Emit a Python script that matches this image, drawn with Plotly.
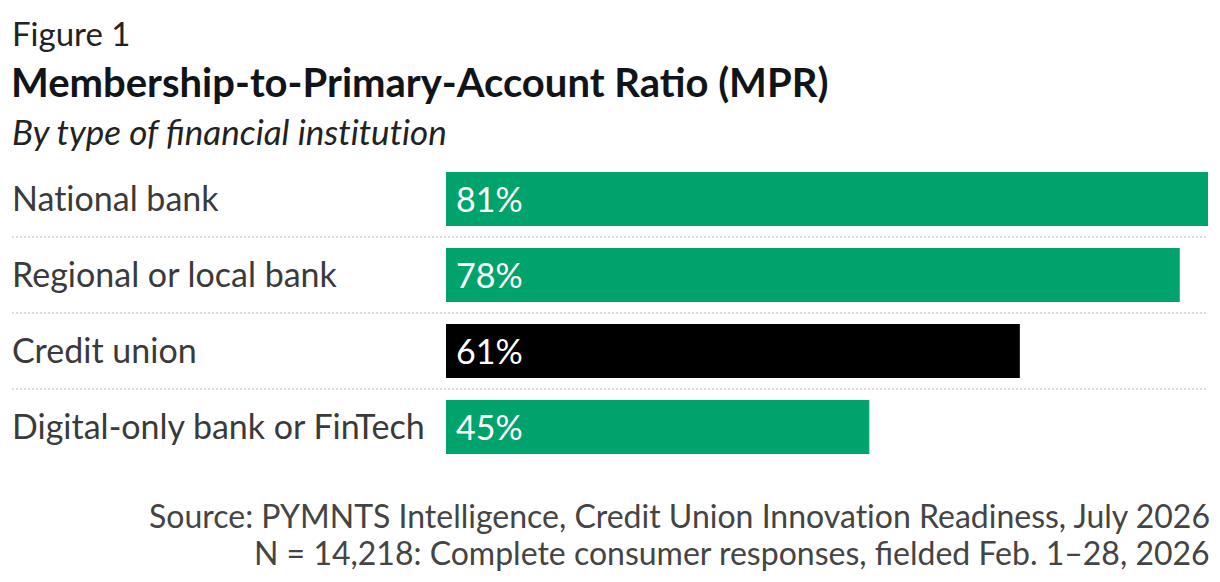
import plotly.graph_objects as go

# 데이터
categories = ['National bank', 'Regional or local bank', 'Credit union', 'Digital-only bank or FinTech']
values = [81, 78, 61, 45]
bar_colors = ['#00a36c', '#00a36c', '#000000', '#00a36c']

FONT = 'Lato'
W, H = 1220, 582
OFF = 8  # 페이지 body 여백 보정
ML, MR, MT, MB = 446 - OFF, 12 + OFF, 161 - OFF, 117 + OFF
plot_w = W - ML - MR


def no_ti(s):
    # Lato 'ti' 합자 방지 (원본은 합자 없음)
    return s.replace('ti', 't\u200ci')


fig = go.Figure()
fig.add_trace(go.Bar(
    y=categories,
    x=values,
    orientation='h',
    marker=dict(color=bar_colors, line=dict(width=0)),
    hoverinfo='skip',
    showlegend=False,
))

# 값 라벨 (막대 안쪽 왼쪽)
for cat, v in zip(categories, values):
    fig.add_annotation(
        x=0, y=cat, xref='x', yref='y',
        text=f'{v}%', showarrow=False,
        xanchor='left', xshift=8, yshift=1,
        font=dict(family=FONT, size=34, color='white'),
    )

# 카테고리 라벨 (왼쪽 정렬)
for cat in categories:
    fig.add_annotation(
        x=0, y=cat, xref='paper', yref='y',
        text=no_ti(cat), showarrow=False,
        xanchor='left', xshift=-ML + 2, yshift=2,
        font=dict(family=FONT, size=34, color='#3a3a3a'),
    )

# 점선 구분선
for i in range(len(categories) - 1):
    fig.add_shape(
        type='line', xref='paper', yref='y',
        x0=-(ML - 4) / plot_w, x1=1,
        y0=i + 0.5, y1=i + 0.5,
        line=dict(color='#dcdcdc', width=2, dash='2px,2px'),
        layer='below',
    )

# 제목
fig.add_annotation(x=0, y=1, xref='paper', yref='paper', text='Figure 1',
                   showarrow=False, xanchor='left', yanchor='middle',
                   xshift=-ML + 2, yshift=161 - 33,
                   font=dict(family=FONT, size=33, color='#222222'))
fig.add_annotation(x=0, y=1, xref='paper', yref='paper',
                   text='<b>Membership-to-Primary-Account Ratio (MPR)</b>',
                   showarrow=False, xanchor='left', yanchor='middle',
                   xshift=-ML + 1, yshift=161 - 82,
                   font=dict(family=FONT, size=40, color='#111418'))
fig.add_annotation(x=0, y=1, xref='paper', yref='paper',
                   text='<i>' + no_ti('By type of financial institution') + '</i>',
                   showarrow=False, xanchor='left', yanchor='middle',
                   xshift=-ML + 2, yshift=161 - 131,
                   font=dict(family=FONT, size=35, color='#222222'))

# 출처
fig.add_annotation(x=1, y=0, xref='paper', yref='paper',
                   text=no_ti('Source: PYMNTS Intelligence, Credit Union Innovation Readiness, July 2026'),
                   showarrow=False, xanchor='right', yanchor='middle',
                   xshift=4, yshift=-(516 - 465) + 1,
                   font=dict(family=FONT, size=32, color='#444444'))
fig.add_annotation(x=1, y=0, xref='paper', yref='paper',
                   text='N = 14,218: Complete consumer responses, fielded Feb. 1–28, 2026',
                   showarrow=False, xanchor='right', yanchor='middle',
                   xshift=4, yshift=-(552 - 465),
                   font=dict(family=FONT, size=32, color='#444444'))

fig.update_layout(
    width=W, height=H,
    margin=dict(l=ML, r=MR, t=MT, b=MB, pad=0),
    paper_bgcolor='white', plot_bgcolor='white',
    bargap=0.29,
    xaxis=dict(range=[0, 81], visible=False, fixedrange=True),
    yaxis=dict(autorange='reversed', showticklabels=False, showgrid=False,
               zeroline=False, showline=False, ticks=''),
    font=dict(family=FONT),
)

fig.write_html('out.html')
